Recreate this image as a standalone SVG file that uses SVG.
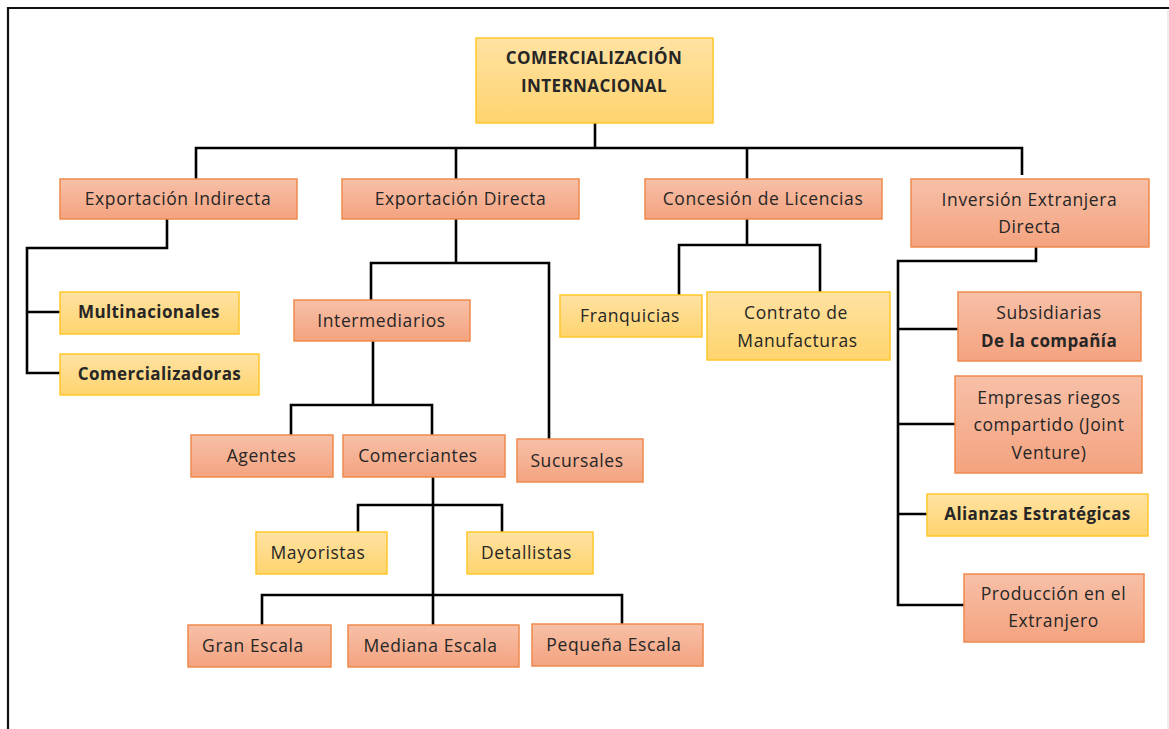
<svg xmlns="http://www.w3.org/2000/svg" width="1169" height="729" viewBox="0 0 1169 729">
  <defs>
    <linearGradient id="gOrange" x1="0" y1="0" x2="0" y2="1">
      <stop offset="0" stop-color="#F7C0A8"/>
      <stop offset="1" stop-color="#F4A37F"/>
    </linearGradient>
    <linearGradient id="gYellow" x1="0" y1="0" x2="0" y2="1">
      <stop offset="0" stop-color="#FFE2A3"/>
      <stop offset="1" stop-color="#FFD46E"/>
    </linearGradient>
    <style>
      .o { fill: url(#gOrange); stroke: #EF8A4C; stroke-width: 1.5; }
      .y { fill: url(#gYellow); stroke: #FFC72C; stroke-width: 1.5; }
      text { font-family: "Open Sans", "Liberation Sans", Arial, sans-serif; font-size: 17.5px; letter-spacing: 0.6px; fill: #262626; text-anchor: middle; }
      .b { font-weight: bold; font-size: 17px; letter-spacing: 0.4px; }
      .lines { fill: none; stroke: #000; stroke-width: 2.6; stroke-linejoin: miter; }
    </style>
  </defs>

  <rect width="1169" height="729" fill="#fff"/>

  <!-- page frame -->
  <path d="M8,729 V8 H1169" fill="none" stroke="#111" stroke-width="2.2"/>
  <path d="M1168,10 V729" fill="none" stroke="#ddd" stroke-width="1"/>

  <!-- connectors -->
  <g id="connectors" class="lines">
    <path d="M595,123 V148 M196,179 V148 H1022 V175 M456,148 V179 M747,148 V179"/>
    <path d="M167,219 V248 H27 V373 H60 M27,312 H60"/>
    <path d="M456,219 V263 H371 V300 M456,263 H549 V439"/>
    <path d="M373,341 V405 H291 V435 M373,405 H432 V435"/>
    <path d="M433,477 V625 M358,532 V505 H502 V532 M262,625 V595 H622 V624"/>
    <path d="M747,219 V245 H679 V295 M747,245 H820 V292"/>
    <path d="M1036,247 V261 H898 V605 H964 M898,329 H958 M898,424 H955 M898,514 H927"/>
  </g>

  <g id="root">
    <rect class="y" x="476" y="38" width="237" height="85"/>
    <text class="b" x="594" y="64">COMERCIALIZACIÓN</text>
    <text class="b" x="594" y="92">INTERNACIONAL</text>
  </g>

  <g id="exp-indirecta">
    <rect class="o" x="60" y="179" width="237" height="40"/>
    <text x="178" y="205">Exportación Indirecta</text>
  </g>
  <g id="exp-directa">
    <rect class="o" x="342" y="179" width="237" height="40"/>
    <text x="460.5" y="205">Exportación Directa</text>
  </g>
  <g id="licencias">
    <rect class="o" x="645" y="179" width="237" height="40"/>
    <text x="763" y="205">Concesión de Licencias</text>
  </g>
  <g id="inversion">
    <rect class="o" x="911" y="179" width="238" height="68"/>
    <text x="1029.5" y="206">Inversión Extranjera</text>
    <text x="1029.5" y="233">Directa</text>
  </g>

  <g id="multinacionales">
    <rect class="y" x="60" y="292" width="179" height="42"/>
    <text class="b" x="149" y="318">Multinacionales</text>
  </g>
  <g id="comercializadoras">
    <rect class="y" x="60" y="354" width="199" height="41"/>
    <text class="b" x="159.5" y="380">Comercializadoras</text>
  </g>

  <g id="intermediarios">
    <rect class="o" x="294" y="300" width="176" height="41"/>
    <text x="381.5" y="327">Intermediarios</text>
  </g>
  <g id="agentes">
    <rect class="o" x="191" y="435" width="142" height="42"/>
    <text x="261.5" y="462">Agentes</text>
  </g>
  <g id="comerciantes">
    <rect class="o" x="343" y="435" width="162" height="42"/>
    <text x="418" y="462">Comerciantes</text>
  </g>
  <g id="sucursales">
    <rect class="o" x="517" y="439" width="126" height="43"/>
    <text x="577" y="467">Sucursales</text>
  </g>
  <g id="mayoristas">
    <rect class="y" x="256" y="532" width="131" height="42"/>
    <text x="318" y="559">Mayoristas</text>
  </g>
  <g id="detallistas">
    <rect class="y" x="467" y="532" width="126" height="42"/>
    <text x="526.5" y="559">Detallistas</text>
  </g>
  <g id="gran-escala">
    <rect class="o" x="188" y="625" width="143" height="42"/>
    <text x="253" y="652">Gran Escala</text>
  </g>
  <g id="mediana-escala">
    <rect class="o" x="348" y="625" width="171" height="42"/>
    <text x="430.5" y="652">Mediana Escala</text>
  </g>
  <g id="pequena-escala">
    <rect class="o" x="532" y="624" width="171" height="42"/>
    <text x="614" y="651">Pequeña Escala</text>
  </g>

  <g id="franquicias">
    <rect class="y" x="560" y="295" width="142" height="42"/>
    <text x="630" y="322">Franquicias</text>
  </g>
  <g id="contrato">
    <rect class="y" x="707" y="292" width="183" height="68"/>
    <text x="796" y="319">Contrato de</text>
    <text x="797.5" y="347">Manufacturas</text>
  </g>

  <g id="subsidiarias">
    <rect class="o" x="958" y="292" width="183" height="69"/>
    <text x="1049" y="319">Subsidiarias</text>
    <text class="b" x="1049" y="347">De la compañía</text>
  </g>
  <g id="joint-venture">
    <rect class="o" x="955" y="376" width="187" height="97"/>
    <text x="1049" y="404">Empresas riegos</text>
    <text x="1049" y="431">compartido (Joint</text>
    <text x="1049" y="459">Venture)</text>
  </g>
  <g id="alianzas">
    <rect class="y" x="927" y="494" width="221" height="42"/>
    <text class="b" x="1037.5" y="520">Alianzas Estratégicas</text>
  </g>
  <g id="produccion">
    <rect class="o" x="964" y="574" width="180" height="68"/>
    <text x="1053.5" y="600">Producción en el</text>
    <text x="1053.5" y="627">Extranjero</text>
  </g>
</svg>
